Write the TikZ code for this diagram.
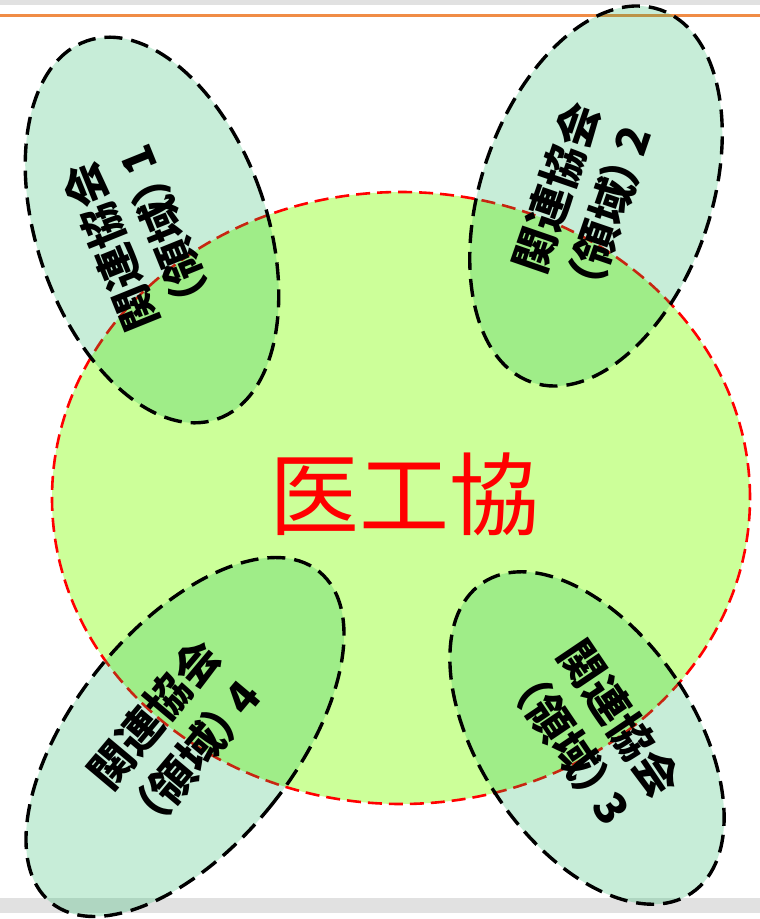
\documentclass[tikz,border=0pt]{standalone}
\usepackage{fontspec}
\newfontfamily\jp{Noto Sans CJK JP}
\newfontfamily\jpp{Noto Sans CJK JP}[RawFeature=+palt]
\newfontfamily\jpc{Noto Sans CJK JP}
\newcommand{\lp}{{\jpp\bfseries （}}
\newcommand{\rp}{{\jpp\bfseries ）}}
\definecolor{circfill}{RGB}{204,255,153}
\definecolor{elgreen}{RGB}{0,176,80}
\definecolor{orangeline}{RGB}{240,140,70}
\definecolor{bandgray}{RGB}{225,225,225}
\tikzset{
  region/.style={draw=black, line width=3.4pt, dash pattern=on 18pt off 9pt,
    fill=elgreen, fill opacity=0.22, draw opacity=1},
  bigregion/.style={draw=red, line width=2.6pt, dash pattern=on 14pt off 7pt, fill=circfill},
  lbl/.style={font=\jp\bfseries\fontsize{44}{57}\selectfont, align=center, inner sep=0pt, text=black},
  centerlbl/.style={font=\jpc\fontsize{90}{90}\selectfont, text=red, inner sep=0pt}
}
\begin{document}
\begin{tikzpicture}[x=1pt,y=1pt]
\useasboundingbox (0,0) rectangle (760,-919);
\fill[white] (0,0) rectangle (760,-919);
% bands
\fill[bandgray] (0,0) rectangle (760,-5);
\draw[orangeline, line width=3pt] (0,-15.5) -- (760,-15.5);
\fill[white] (473,-5) rectangle (724,-12.5);
\fill[bandgray] (0,-898) rectangle (760,-913);
% main circle
\draw[bigregion] (401,-498) ellipse [x radius=349, y radius=306];
\node[centerlbl] (c) at (404,-494) {医工協};
% related associations
\draw[region, rotate around={19:(152,-230)}] (152,-230) ellipse [x radius=115, y radius=200];
\draw[region, rotate around={-19:(596,-196)}] (596,-196) ellipse [x radius=115, y radius=197];
\draw[region, rotate around={34:(587,-738)}] (587,-738) ellipse [x radius=107, y radius=187];
\draw[region, rotate around={-39:(185,-737)}] (185,-737) ellipse [x radius=110, y radius=213];
\node[lbl, rotate=112] (t1) at (137.5,-236) {関連協会\\\lp 領域\rp\,1};
\node[lbl, rotate=71] (t2) at (583,-197) {関連協会\\\lp 領域\rp\,2};
\node[lbl, rotate=-56] (t3) at (596,-734.5) {関連協会\\\lp 領域\rp\,3};
\node[lbl, rotate=50] (t4) at (176,-732.5) {関連協会\\\lp 領域\rp\,4};
\end{tikzpicture}
\end{document}
